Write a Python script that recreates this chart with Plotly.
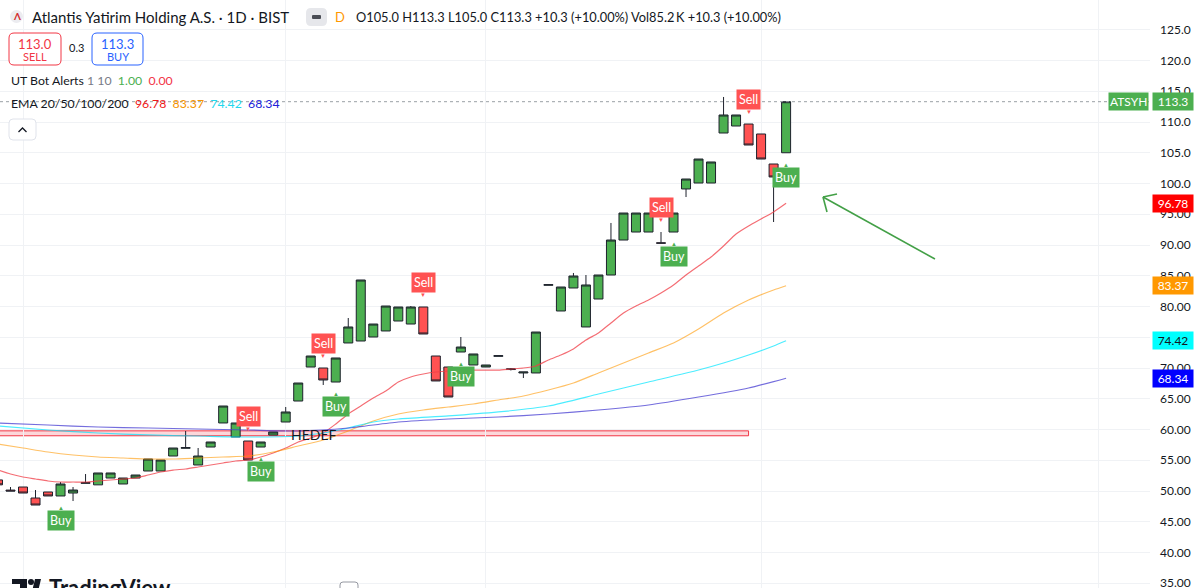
import plotly.graph_objects as go

# ------------------------------------------------------------------ data
bars = list(range(64))
opens = [51.8, 50.15, 50.65, 48.86, 49.84, 49.19, 49.67, 51.25, 51.0, 52.11,
         51.14, 52.11, 53.25, 53.25, 55.69, 56.95, 54.23, 57.15, 61.06, 58.78,
         58.13, 57.15, 59.1, 61.22, 64.63, 70.16, 70.0, 67.72, 74.07, 74.39,
         75.04, 76.02, 77.64, 77.15, 79.92, 71.95, 70.16, 72.6, 70.49, 70.16,
         71.9, 69.75, 69.19, 69.19, 83.45, 79.27, 83.01, 76.67, 81.22, 85.12,
         90.81, 92.11, 92.11, 90.35, 92.11, 99.11, 100.08, 100.08, 108.21, 109.35,
         109.67, 108.05, 103.17, 105.0]
highs = [51.9, 50.65, 50.65, 50.16, 49.84, 51.46, 50.65, 52.76, 52.93, 52.93,
         52.11, 52.6, 55.2, 55.04, 56.99, 59.76, 56.99, 57.97, 63.82, 61.06,
         58.13, 57.97, 59.6, 63.66, 67.56, 71.95, 70.0, 71.63, 78.13, 84.31,
         77.15, 80.08, 79.92, 80.08, 79.92, 71.95, 70.16, 75.04, 72.28, 70.49,
         72.0, 70.0, 69.35, 75.85, 83.55, 83.17, 85.45, 85.12, 85.12, 93.58,
         95.2, 95.2, 95.2, 92.11, 95.2, 100.73, 103.98, 103.5, 114.07, 111.14,
         109.67, 108.05, 103.17, 113.3]
lows = [50.9, 50.0, 49.67, 47.72, 49.19, 49.19, 48.37, 51.25, 51.0, 52.11,
        51.14, 52.11, 53.25, 53.25, 55.69, 56.95, 54.23, 57.15, 61.06, 58.78,
        55.04, 57.15, 59.1, 61.22, 64.63, 70.16, 67.24, 67.72, 74.07, 74.39,
        75.04, 76.02, 77.64, 77.15, 75.53, 67.89, 65.28, 72.6, 70.49, 70.16,
        71.9, 69.6, 68.37, 69.19, 83.45, 79.27, 83.01, 76.67, 81.22, 85.12,
        90.81, 92.11, 92.11, 90.3, 92.11, 97.8, 100.08, 100.08, 108.21, 109.35,
        106.26, 103.98, 93.74, 105.0]
closes = [51.0, 50.0, 49.67, 47.72, 49.19, 51.14, 50.16, 51.35, 52.93, 52.93,
          52.11, 52.6, 55.2, 55.04, 56.99, 57.05, 55.69, 57.97, 63.82, 61.06,
          55.04, 57.97, 59.6, 62.85, 67.56, 71.95, 68.05, 71.63, 76.67, 84.31,
          77.15, 80.08, 79.92, 79.92, 75.53, 67.89, 65.28, 73.41, 72.28, 70.49,
          72.0, 69.85, 69.35, 75.85, 83.55, 83.17, 84.96, 83.5, 85.12, 90.81,
          95.2, 95.2, 95.2, 90.3, 95.2, 100.73, 103.98, 103.5, 111.14, 111.14,
          106.26, 103.98, 101.06, 113.3]

ema20 = [53.41, 52.76, 52.28, 51.95, 51.63, 51.46, 51.46, 51.46, 51.63, 51.79,
         51.95, 52.11, 52.60, 53.09, 53.41, 53.58, 53.90, 54.23, 54.55, 54.88,
         55.04, 55.53, 56.18, 56.99, 57.97, 58.62, 59.43, 60.89, 62.52, 63.82,
         65.12, 66.26, 67.72, 68.54, 69.02, 69.35, 69.51, 69.67, 69.67, 69.67,
         69.67, 69.84, 70.0, 70.33, 71.30, 72.11, 73.09, 74.55, 75.69, 77.32,
         78.94, 80.08, 81.06, 82.20, 83.50, 85.12, 86.59, 88.05, 89.84, 91.79,
         93.09, 94.23, 95.37, 96.78]
ema50_bars = [0, 2, 4, 6, 8, 10, 12, 14, 16, 18, 20, 22, 24, 26, 28, 30, 32,
              34, 36, 38, 40, 42, 44, 46, 48, 50, 52, 54, 56, 58, 60, 62, 63]
ema50 = [57.64, 56.99, 56.34, 55.85, 55.53, 55.37, 55.20, 55.20, 55.37, 55.53,
         55.69, 56.34, 57.32, 58.29, 59.76, 61.38, 62.52, 63.17, 63.66, 64.15,
         64.80, 65.45, 66.42, 67.56, 69.19, 70.81, 72.44, 74.07, 76.34, 78.94,
         81.06, 82.68, 83.37]
ema100_bars = [0, 4, 8, 12, 16, 20, 24, 26, 28, 30, 32, 36, 40, 44, 48, 52, 56,
               58, 60, 62, 63]
ema100 = [60.57, 59.92, 59.43, 59.11, 58.94, 58.78, 58.94, 59.43, 60.24, 61.22,
          61.71, 62.20, 62.85, 63.82, 65.77, 67.72, 69.67, 70.81, 72.11, 73.58,
          74.42]
ema200_bars = [0, 4, 8, 12, 16, 20, 24, 28, 32, 36, 40, 44, 48, 52, 56, 60, 63]
ema200 = [61.06, 60.73, 60.41, 60.24, 60.08, 59.92, 59.76, 60.24, 61.22, 61.71,
          62.03, 62.52, 63.17, 63.98, 65.28, 66.75, 68.34]

sell_bars = [20, 26, 34, 53, 60]
buy_bars = [5, 21, 27, 37, 54, 63]

hedef_low, hedef_high = 58.98, 59.78
hedef_start_bar, hedef_end_bar = -2, 60
hedef_label_bar, hedef_label_price = 23.3, 59.25

arrow_tail = (74.9, 87.72)
arrow_head = (65.95, 97.8)
arrow_arm1 = (67.07, 98.29)
arrow_arm2 = (66.27, 95.37)

price_ticks = [35, 40, 45, 50, 55, 60, 65, 70, 75, 80, 85, 90, 95, 100, 105, 110, 115, 120, 125]
# 75.00 is fully covered by the EMA100 price tag in the original
price_tick_labels = ["35.00", "40.00", "45.00", "50.00", "55.00", "60.00", "65.00",
                     "70.00", "", "80.00", "85.00", "90.00", "95.00", "100.0",
                     "105.0", "110.0", "115.0", "120.0", "125.0"]
time_grid_bars = [2, 23, 39, 61, 88]

last_price = 113.3
ema_names = ["EMA20", "EMA50", "EMA100", "EMA200"]
ema_last = [96.78, 83.37, 74.42, 68.34]
ema_tag_colors = ["#ff0000", "#ff9800", "#00ffff", "#0000ff"]
ema_tag_text = ["white", "white", "#131722", "white"]
ema_text_colors = ["#f01818", "#f59300", "#1fd8ee", "#2020d8"]
ema_line_colors = ["rgba(240,60,70,0.75)", "rgba(255,152,0,0.6)",
                   "rgba(0,229,255,0.7)", "rgba(70,60,210,0.75)"]

# ------------------------------------------------------------------ layout helpers
W_PLOT, H_PLOT = 1150.0, 588.0
FONT = "Lato, 'Open Sans', sans-serif"
DARK = "#131722"


def px(x):
    return x / W_PLOT


def py(y):
    return 1 - y / H_PLOT


def rrect(x0, y0, x1, y1, r=3):
    """rounded rectangle path in paper coords from pixel coords"""
    pts = [f"M{px(x0 + r)},{py(y0)}",
           f"L{px(x1 - r)},{py(y0)}",
           f"Q{px(x1)},{py(y0)} {px(x1)},{py(y0 + r)}",
           f"L{px(x1)},{py(y1 - r)}",
           f"Q{px(x1)},{py(y1)} {px(x1 - r)},{py(y1)}",
           f"L{px(x0 + r)},{py(y1)}",
           f"Q{px(x0)},{py(y1)} {px(x0)},{py(y1 - r)}",
           f"L{px(x0)},{py(y0 + r)}",
           f"Q{px(x0)},{py(y0)} {px(x0 + r)},{py(y0)}",
           "Z"]
    return " ".join(pts)


fig = go.Figure()

fig.add_trace(go.Candlestick(
    x=bars, open=opens, high=highs, low=lows, close=closes,
    increasing=dict(fillcolor="#4caf50", line=dict(color="#1e222d", width=1)),
    decreasing=dict(fillcolor="#ff5252", line=dict(color="#1e222d", width=1)),
    whiskerwidth=0, hoverinfo="skip", showlegend=False))

ema_x = [bars, ema50_bars, ema100_bars, ema200_bars]
ema_y = [ema20, ema50, ema100, ema200]
for name, xs, ys, col in zip(ema_names, ema_x, ema_y, ema_line_colors):
    fig.add_trace(go.Scatter(x=xs, y=ys, mode="lines", name=name,
                             line=dict(color=col, width=1.2, shape="spline", smoothing=0.6),
                             hoverinfo="skip", showlegend=False))

shapes = []
annotations = []

# HEDEF band
shapes.append(dict(type="rect", xref="x", yref="y", x0=hedef_start_bar, x1=hedef_end_bar,
                   y0=hedef_low, y1=hedef_high, fillcolor="rgba(242,54,69,0.2)",
                   line=dict(color="#f23645", width=1), layer="below"))
annotations.append(dict(x=hedef_label_bar, y=hedef_label_price, xref="x", yref="y",
                        text="HEDEF", showarrow=False, xanchor="left", yanchor="middle",
                        font=dict(family=FONT, size=14, color=DARK)))

# last price dotted line
shapes.append(dict(type="line", xref="paper", yref="y", x0=0, x1=1, y0=last_price,
                   y1=last_price, line=dict(color="#9aa0a6", width=1, dash="dot")))

# green hand-drawn arrow
arrow_col = "#43a047"
shapes.append(dict(type="line", xref="x", yref="y", x0=arrow_tail[0], y0=arrow_tail[1],
                   x1=arrow_head[0], y1=arrow_head[1], line=dict(color=arrow_col, width=1.6)))
for arm in (arrow_arm1, arrow_arm2):
    shapes.append(dict(type="line", xref="x", yref="y", x0=arrow_head[0], y0=arrow_head[1],
                       x1=arm[0], y1=arm[1], line=dict(color=arrow_col, width=1.6)))

# Buy / Sell labels
for b in sell_bars:
    annotations.append(dict(x=b, y=highs[b], xref="x", yref="y", text="Sell",
                            showarrow=False, yanchor="bottom", yshift=14,
                            bgcolor="#ff5252", borderpad=2,
                            font=dict(family=FONT, size=12.5, color="white")))
    annotations.append(dict(x=b, y=highs[b], xref="x", yref="y", text="▼",
                            showarrow=False, yanchor="middle", yshift=12,
                            font=dict(size=6, color="#ff5252")))
for b in buy_bars:
    annotations.append(dict(x=b, y=lows[b], xref="x", yref="y", text="Buy",
                            showarrow=False, yanchor="top", yshift=-14,
                            bgcolor="#4caf50", borderpad=2,
                            font=dict(family=FONT, size=12.5, color="white")))
    annotations.append(dict(x=b, y=lows[b], xref="x", yref="y", text="▲",
                            showarrow=False, yanchor="middle", yshift=-12,
                            font=dict(size=6, color="#4caf50")))

# price axis tags
annotations.append(dict(x=1, y=last_price, xref="paper", yref="y", text="ATSYH",
                        showarrow=False, xanchor="right", xshift=-1, bgcolor="#4caf50",
                        borderpad=1, font=dict(family=FONT, size=12, color="white")))
annotations.append(dict(x=1, y=last_price, xref="paper", yref="y", text=f"{last_price:.1f}",
                        showarrow=False, xanchor="left", xshift=2, width=38, bgcolor="#4caf50",
                        borderpad=1, font=dict(family=FONT, size=12, color="white")))
for val, bg, tcol in zip(ema_last, ema_tag_colors, ema_tag_text):
    annotations.append(dict(x=1, y=val, xref="paper", yref="y", text=f"{val:.2f}",
                            showarrow=False, xanchor="left", xshift=2, width=38, bgcolor=bg,
                            borderpad=1, font=dict(family=FONT, size=12, color=tcol)))


# ------------------------------------------------------------------ header
def label(x, y, text, size=13, color=DARK, anchor="left", yanchor="middle"):
    annotations.append(dict(x=px(x), y=py(y), xref="paper", yref="paper", text=text,
                            showarrow=False, xanchor=anchor, yanchor=yanchor,
                            font=dict(family=FONT, size=size, color=color)))


# logo
shapes.append(dict(type="circle", xref="paper", yref="paper", x0=px(10), x1=px(23),
                   y0=py(10), y1=py(23), fillcolor="#ececf0", line=dict(width=0)))
label(16.5, 16.5, "<b>Λ</b>", size=10, color="#d32f2f", anchor="center")
label(30, 17, "Atlantis Yatirim Holding A.S. · 1D · BIST", size=15)
shapes.append(dict(type="path", xref="paper", yref="paper", path=rrect(306, 8, 327, 26, 5),
                   fillcolor="#e6e7eb", line=dict(width=0)))
shapes.append(dict(type="path", xref="paper", yref="paper", path=rrect(312, 15, 321, 19, 1),
                   fillcolor="#4a4d55", line=dict(width=0)))
label(333, 17, "D", size=13, color="#ff9800")
label(354, 17, "O105.0 H113.3 L105.0 C113.3 +10.3 (+10.00%) Vol85.2\u2009K +10.3 (+10.00%)",
      size=12.8)

# sell / buy boxes
shapes.append(dict(type="path", xref="paper", yref="paper", path=rrect(9, 33, 61, 65, 5),
                   fillcolor="white", line=dict(color="#f23645", width=1)))
label(35, 44, "113.0", size=13, color="#f23645", anchor="center")
label(35, 57, "SELL", size=11, color="#f23645", anchor="center")
label(76, 48, "0.3", size=11, color=DARK, anchor="center")
shapes.append(dict(type="path", xref="paper", yref="paper", path=rrect(92, 33, 143, 65, 5),
                   fillcolor="white", line=dict(color="#2962ff", width=1)))
label(117.5, 44, "113.3", size=13, color="#2962ff", anchor="center")
label(117.5, 57, "BUY", size=11, color="#2962ff", anchor="center")

label(9, 81, "UT Bot Alerts <span style='color:#787b86'>1 10</span>  "
             "<span style='color:#4caf50'>1.00</span>  <span style='color:#f23645'>0.00</span>",
      size=12.3)
ema_vals_html = "  ".join(f"<span style='color:{c}'>{v:.2f}</span>"
                          for v, c in zip(ema_last, ema_text_colors))
label(9, 104, "EMA 20/50/100/200  " + ema_vals_html, size=12.3)

# collapse button
shapes.append(dict(type="path", xref="paper", yref="paper", path=rrect(9, 119, 36, 140, 4),
                   fillcolor="white", line=dict(color="#e0e3eb", width=1)))
shapes.append(dict(type="path", xref="paper", yref="paper",
                   path=f"M{px(18.5)},{py(132)} L{px(22.5)},{py(128)} L{px(26.5)},{py(132)}",
                   line=dict(color=DARK, width=1.3)))

# TradingView watermark at the bottom (cut off by the frame)
shapes.append(dict(type="path", xref="paper", yref="paper",
                   path=f"M{px(12)},{py(579)} L{px(27)},{py(579)} L{px(27)},{py(600)} "
                        f"L{px(20)},{py(600)} L{px(20)},{py(584)} L{px(12)},{py(584)} Z",
                   fillcolor=DARK, line=dict(width=0)))
shapes.append(dict(type="circle", xref="paper", yref="paper", x0=px(28), x1=px(34),
                   y0=py(579), y1=py(585), fillcolor=DARK, line=dict(width=0)))
shapes.append(dict(type="path", xref="paper", yref="paper",
                   path=f"M{px(35)},{py(579)} L{px(41)},{py(579)} L{px(36)},{py(600)} "
                        f"L{px(30)},{py(600)} Z",
                   fillcolor=DARK, line=dict(width=0)))
label(47, 572, "<b>TradingView</b>", size=22, color=DARK, yanchor="top")
shapes.append(dict(type="path", xref="paper", yref="paper", path=rrect(340, 582, 358, 598, 3),
                   fillcolor="white", line=dict(color="#9598a1", width=1)))

fig.update_layout(
    width=1200, height=588,
    margin=dict(l=0, r=50, t=0, b=0),
    paper_bgcolor="white", plot_bgcolor="white",
    showlegend=False, boxgap=0.1, boxgroupgap=0.2,
    shapes=shapes, annotations=annotations,
    xaxis=dict(range=[0.161, 92.09], rangeslider=dict(visible=False),
               showticklabels=False, tickvals=time_grid_bars, showgrid=True,
               gridcolor="#f0f2f5", zeroline=False, showline=False, fixedrange=True),
    yaxis=dict(range=[34.228, 129.837], side="right", tickvals=price_ticks,
               ticktext=price_tick_labels, showgrid=True, gridcolor="#f0f2f5",
               zeroline=False, showline=False, ticks="", ticklabelstandoff=9,
               ticklabeloverflow="allow",
               tickfont=dict(family=FONT, size=12, color=DARK), automargin=False),
)

fig.write_html("out.html")
